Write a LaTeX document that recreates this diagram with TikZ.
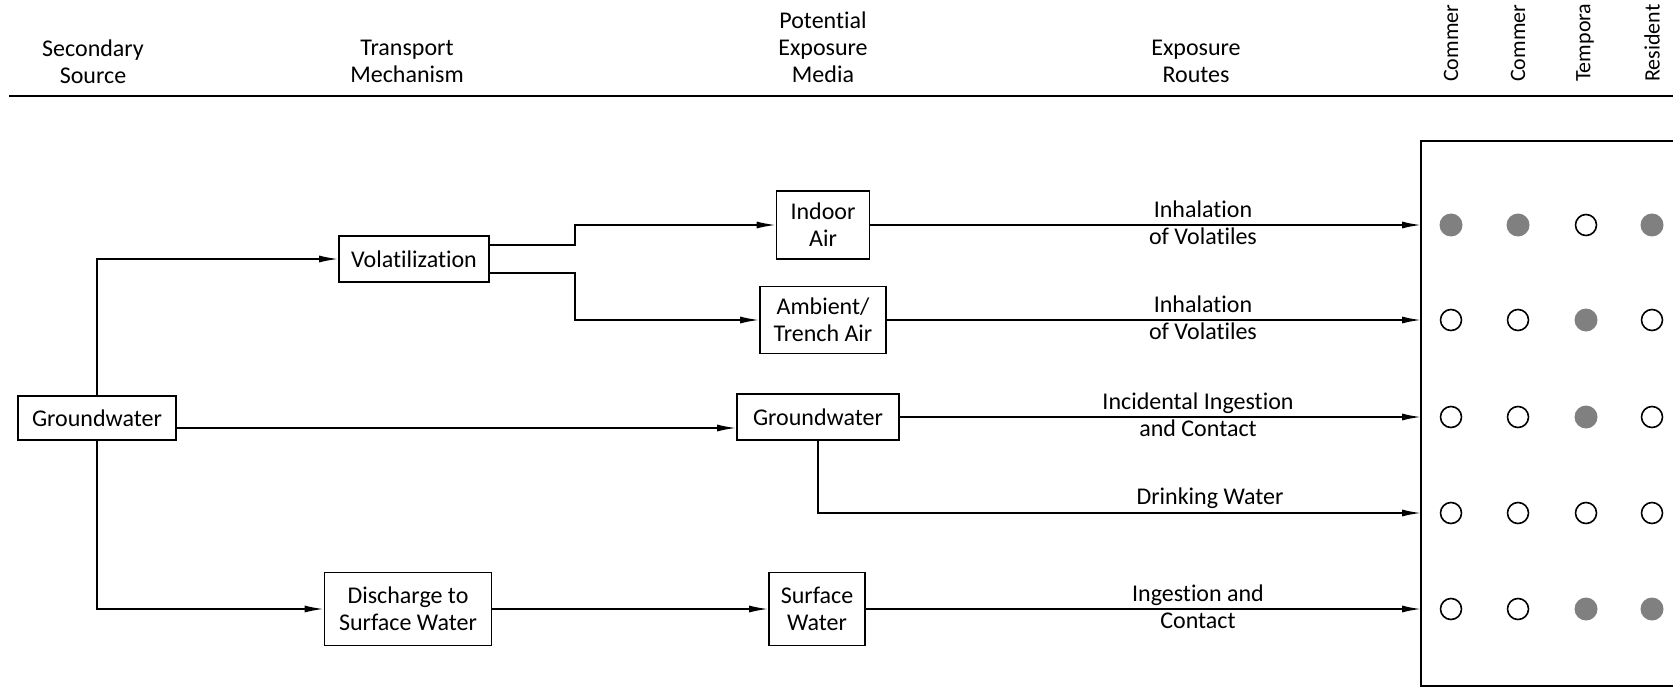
\documentclass[tikz,border=0pt]{standalone}
\usepackage{fontspec}
\setmainfont[Ligatures=NoCommon]{Carlito}
\usetikzlibrary{arrows.meta}
\begin{document}
\begin{tikzpicture}[x=1pt,y=-1pt,
  every node/.style={font=\fontsize{24}{27}\selectfont},
  box/.style={draw,line width=1.6pt,align=center,inner sep=2pt},
  lbl/.style={align=center,inner sep=0pt},
  hdr/.style={align=center,inner sep=0pt},
  rot/.style={rotate=90,anchor=west,inner sep=0pt,font=\fontsize{22}{26}\selectfont},
  arr/.style={line width=1.6pt,-{Latex[length=19pt,width=7pt]}},
  ln/.style={line width=1.6pt},
  full/.style={circle,fill=black!50,minimum size=23pt,inner sep=0pt},
  empty/.style={circle,draw,line width=1.6pt,minimum size=21pt,inner sep=0pt}]
\useasboundingbox (0,0) rectangle (1673,687);
\clip (0,0) rectangle (1673,687);
% header
\node[hdr] (h1) at (93,61.5) {Secondary\\Source};
\node[hdr] (h2) at (407,61.5) {Transport\\Mechanism};
\node[hdr] (h3) at (823,47) {Potential\\Exposure\\Media};
\node[hdr] (h4) at (1196,61.5) {Exposure\\Routes};
\node[rot] (c1) at (1451,82) {Commer};
\node[rot] (c2) at (1518,82) {Commer};
\node[rot] (c3) at (1585,82) {Tempora};
\node[rot] (c4) at (1652,82) {Resident};
\coordinate (hl) at (9,96);
\coordinate (hr) at (1673,96);
\draw[line width=2.6pt] (hl) -- (hr);
% nodes
\node[box,minimum width=158pt,minimum height=44pt] (gw) at (97,418) {Groundwater};
\node[box,minimum width=150pt,minimum height=46pt] (vol) at (414,259) {Volatilization};
\node[box,minimum width=93pt,minimum height=68pt] (indoor) at (823,225) {Indoor\\Air};
\node[box,minimum width=126pt,minimum height=67pt] (amb) at (823,320) {Ambient/\\Trench Air};
\node[box,minimum width=162pt,minimum height=46pt] (gw2) at (818,417) {Groundwater};
\node[box,minimum width=167pt,minimum height=73pt] (dis) at (408,609) {Discharge to\\Surface Water};
\node[box,minimum width=96pt,minimum height=73pt] (sw) at (817,609) {Surface\\Water};
% receptor box
\draw[ln] (1760,141) -- (1421,141) -- (1421,686) -- (1760,686);
\coordinate (r1) at (1421,225);
\coordinate (r2) at (1421,320);
\coordinate (r3) at (1421,417);
\coordinate (r4) at (1421,513);
\coordinate (r5) at (1421,609);
% connectors
\draw[arr] (gw.north) |- (vol.west);
\draw[arr] (gw.south) |- (dis.west);
\draw[arr] ([yshift=-10pt]gw.east) -- ([yshift=-11pt]gw2.west);
\draw[arr] ([yshift=14pt]vol.east) -- ++(85,0) |- (indoor.west);
\draw[arr] ([yshift=-14pt]vol.east) -- ++(85,0) |- (amb.west);
\draw[arr] (dis.east) -- (sw.west);
\draw[arr] (indoor.east) -- (r1);
\draw[arr] (amb.east) -- (r2);
\draw[arr] (gw2.east) -- (r3);
\draw[arr] (gw2.south) |- (r4);
\draw[arr] (sw.east) -- (r5);
% labels
\node[lbl] (l1) at (1203,223) {Inhalation\\of Volatiles};
\node[lbl] (l2) at (1203,318) {Inhalation\\of Volatiles};
\node[lbl] (l3) at (1198,415) {Incidental Ingestion\\and Contact};
\node[lbl] (l4) at (1210,498) {Drinking Water};
\node[lbl] (l5) at (1198,607) {Ingestion and\\Contact};
% circles
\node[full]  (a1) at (1451,225) {};
\node[full]  (a2) at (1518,225) {};
\node[empty] (a3) at (1586,225) {};
\node[full]  (a4) at (1652,225) {};
\node[empty] (b1) at (1451,320) {};
\node[empty] (b2) at (1518,320) {};
\node[full]  (b3) at (1586,320) {};
\node[empty] (b4) at (1652,320) {};
\node[empty] (d1) at (1451,417) {};
\node[empty] (d2) at (1518,417) {};
\node[full]  (d3) at (1586,417) {};
\node[empty] (d4) at (1652,417) {};
\node[empty] (e1) at (1451,513) {};
\node[empty] (e2) at (1518,513) {};
\node[empty] (e3) at (1586,513) {};
\node[empty] (e4) at (1652,513) {};
\node[empty] (f1) at (1451,609) {};
\node[empty] (f2) at (1518,609) {};
\node[full]  (f3) at (1586,609) {};
\node[full]  (f4) at (1652,609) {};
\end{tikzpicture}
\end{document}
